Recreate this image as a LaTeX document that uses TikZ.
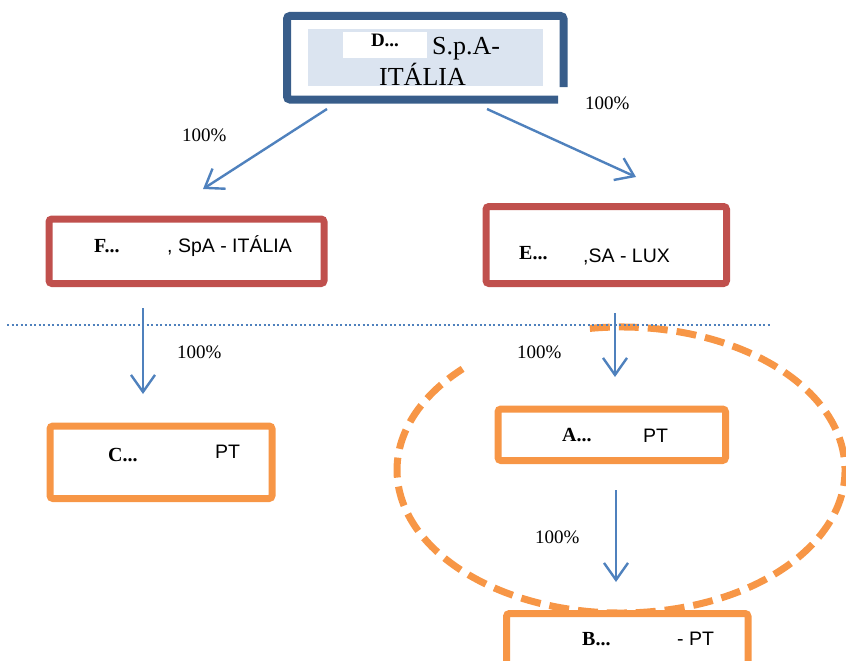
\documentclass[tikz,border=0pt]{standalone}
\usepackage{fontspec}
\setmainfont{Liberation Serif}
\setsansfont{Liberation Sans}
\usetikzlibrary{positioning,arrows.meta}
\definecolor{holdblue}{HTML}{385D8A}
\definecolor{holdfill}{HTML}{DBE4F0}
\definecolor{subred}{HTML}{C0504D}
\definecolor{ptorange}{HTML}{F79646}
\definecolor{linkblue}{HTML}{4F81BD}

\begin{document}
\begin{tikzpicture}[x=1pt,y=-1pt,
  box/.style={draw, line width=7pt, rounded corners=3pt, fill=white, inner sep=0pt, outer sep=0pt},
  link/.style={draw=linkblue, line width=2.4pt, -{Straight Barb[length=17pt,width=24pt]}},
  ring/.style={draw=ptorange, line width=7pt, dash pattern=on 20pt off 9pt},
  pct/.style={font=\fontsize{19}{22}\selectfont, inner sep=0pt, anchor=base west},
  corp/.style={font=\bfseries\fontsize{20}{24}\selectfont, inner sep=0pt, anchor=base west},
  loc/.style={font=\sffamily\fontsize{19.5}{23}\selectfont, inner sep=0pt, anchor=base west},
  topname/.style={font=\fontsize{26}{30}\selectfont, inner sep=0pt}]
\clip (0,0) rectangle (846,661);

\coordinate (ringc) at (621,470);
\draw[ring] (ringc) ++(-98:224 and 143) arc[start angle=-98, end angle=225, x radius=224, y radius=143];

\coordinate (cutl) at (7,325);
\coordinate (cutr) at (770,325);
\draw[linkblue, line width=2pt, dash pattern=on 2pt off 2.5pt] (cutl) -- (cutr);

\node[fill=holdfill, minimum width=235pt, minimum height=57pt, inner sep=0pt, outer sep=0pt] (dbox) at (425.5,57.5) {};
\draw[holdblue, line width=8pt, rounded corners=3pt] ([shift={(20.5,58)}]dbox.north east) -- ([shift={(20.5,-13)}]dbox.north east) -- ([shift={(-21,-13)}]dbox.north west) -- ([shift={(-21,13.5)}]dbox.south west) -- ([shift={(15,13.5)}]dbox.south east);
\node[fill=white, minimum width=84pt, minimum height=26pt, inner sep=0pt] (dmask) at (385,45) {};
\node[corp, font=\bfseries\fontsize{19}{22}\selectfont, anchor=base] (dlbl) at (385,47) {D...};
\node[topname, anchor=base west] (dform) at (432,55) {S.p.A-};
\node[topname, anchor=base] (dctry) at (422.5,85) {ITÁLIA};

\node[box, draw=subred, minimum width=275pt, minimum height=64.5pt] (fbox) at (186.5,251.25) {};
\node[corp] (flbl) at (94,252) {F...};
\node[loc] (floc) at (167,252) {, SpA - ITÁLIA};

\node[box, draw=subred, minimum width=240.5pt, minimum height=77pt] (ebox) at (606.25,245) {};
\node[corp] (elbl) at (519,259) {E...};
\node[loc] (eloc) at (583,262) {,SA - LUX};

\node[box, draw=ptorange, minimum width=222pt, minimum height=72.5pt] (cbox) at (161,462.25) {};
\node[corp] (clbl) at (108,461) {C...};
\node[loc] (cloc) at (215,458) {PT};

\node[box, draw=ptorange, minimum width=227.5pt, minimum height=51.5pt] (abox) at (611.75,434.75) {};
\node[corp] (albl) at (562,441) {A...};
\node[loc] (aloc) at (643,442) {PT};

\node[box, draw=ptorange, minimum width=241.5pt, minimum height=66.5pt] (bbox) at (627.25,646.75) {};
\node[corp] (blbl) at (582,645) {B...};
\node[loc] (bloc) at (677,645) {- PT};

\draw[link] ([shift={(-98.5,23)}]dbox.south) -- ([shift={(16.5,-30)}]fbox.north);
\draw[link] ([shift={(61.5,23)}]dbox.south) -- ([shift={(29.75,-29.5)}]ebox.north);
\draw[link] ([shift={(-43.5,24.5)}]fbox.south) -- ([shift={(-18,-32)}]cbox.north);
\draw[link] ([shift={(8.75,29.5)}]ebox.south) -- ([shift={(3.25,-32)}]abox.north);
\draw[link] ([shift={(4.25,29.5)}]abox.south) -- ([shift={(-11.25,-31.5)}]bbox.north);

\node[pct] (pdf) at (182,141) {100\%};
\node[pct] (pde) at (585,110) {100\%};
\node[pct] (pfc) at (177,358) {100\%};
\node[pct] (pea) at (517,358) {100\%};
\node[pct] (pab) at (535,543) {100\%};
\end{tikzpicture}
\end{document}
